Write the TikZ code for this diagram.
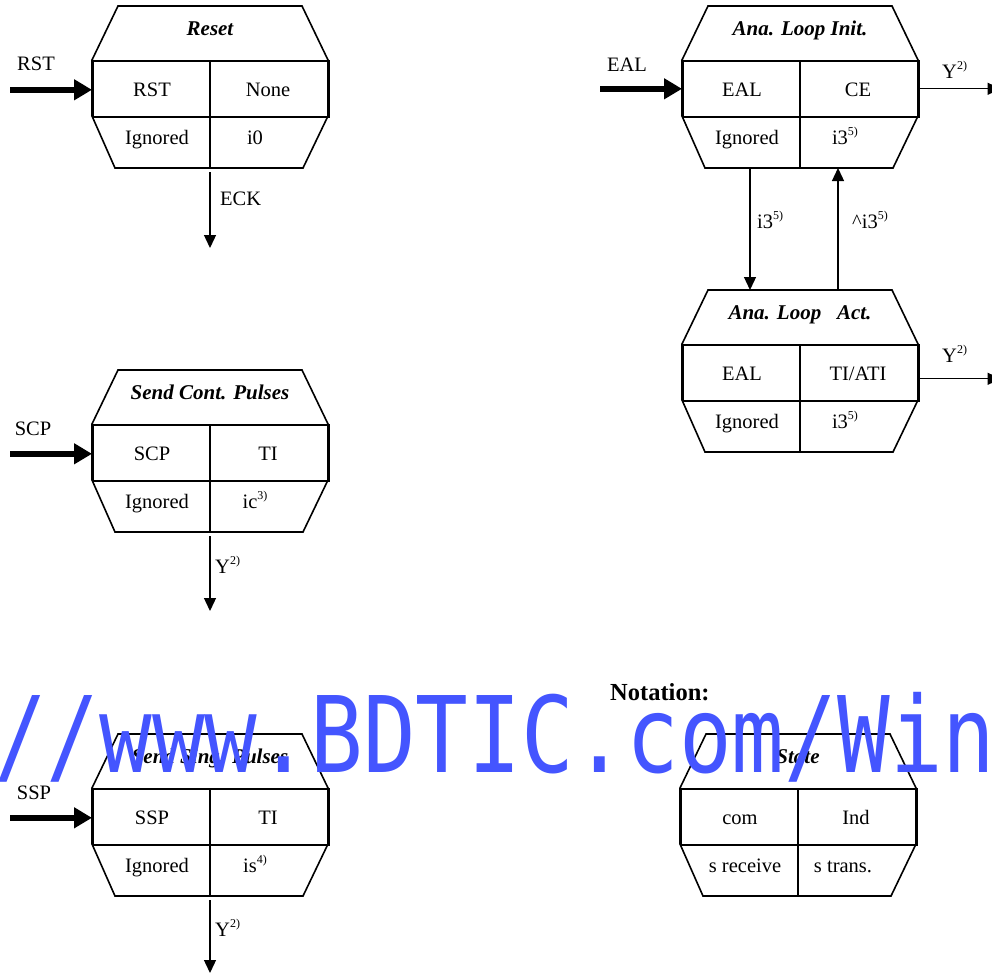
\documentclass[tikz,border=0pt]{standalone}
\usepackage{fontspec}
\setmainfont{Liberation Serif}
\newfontfamily\wmfont{DejaVu Sans Mono}
\usetikzlibrary{arrows.meta}
\definecolor{wmblue}{RGB}{68,85,255}
\newcommand\upnote[1]{\raisebox{0.42em}{\fontsize{12}{12}\selectfont #1}}
\tikzset{
 blk/.style={line width=1.6pt, line join=miter},
 txt/.style={anchor=base, inner sep=0pt, font=\fontsize{20.5}{24}\selectfont},
 ttl/.style={anchor=base, inner sep=0pt, font=\fontsize{21}{24}\selectfont\bfseries\itshape},
 thickarrow/.style={line width=6pt, -{Triangle[length=18pt,width=20pt]}},
 thinarrow/.style={line width=1.3pt, -{Triangle[length=13pt,width=12pt]}},
}
\newcommand\stblock[8]{%
\begin{scope}[shift={(#2,#3)}]
 \draw[blk] (26,0) -- (210,0) -- (236,54) -- (236,110) -- (211,162) -- (23,162) -- (0,110) -- (0,54) -- cycle;
 \node[draw, blk, minimum width=236pt, minimum height=56pt, inner sep=0pt, anchor=north west] (#1-row) at (0,54) {};
 \draw[blk] (118,54) -- (118,162);
 \coordinate (#1-top) at (118,0);
 \coordinate (#1-bot) at (118,162);
 \node[ttl] (#1-title) at (118,29) {#4};
 \node[txt] (#1-a) at (60,90) {#5};
 \node[txt] (#1-b) at (176,90) {#6};
 \node[txt] (#1-c) at (65,138) {#7};
 \node[txt] (#1-d) at (163,138) {#8};
\end{scope}}
\begin{document}
\begin{tikzpicture}[x=1pt,y=-1pt]
\useasboundingbox (0,0) rectangle (992,975);
\fill[white] (0,0) rectangle (992,975);

\stblock{reset}{92}{6}{Reset}{RST}{None}{Ignored}{i0}
\stblock{init}{682}{6}{Ana. Loop Init.}{EAL}{CE}{Ignored}{i3\upnote{5)}}
\stblock{act}{682}{290}{Ana. Loop~~~Act.}{EAL}{TI/ATI}{Ignored}{i3\upnote{5)}}
\stblock{scp}{92}{370}{Send Cont. Pulses}{SCP}{TI}{Ignored}{ic\upnote{3)}}
\stblock{ssp}{92}{734}{Send Sing. Pulses}{SSP}{TI}{Ignored}{is\upnote{4)}}
\stblock{state}{680}{734}{State}{com}{Ind}{s receive}{s trans.}

% inputs
\coordinate (reset-src) at ([xshift=-82pt,yshift=-1pt]reset-row.west);
\draw[thickarrow] (reset-src) -- (reset-src -| reset-row.west);
\node[txt] (rstlab) at (36,70) {RST};
\coordinate (init-src) at ([xshift=-82pt]init-row.west);
\draw[thickarrow] (init-src) -- (init-row.west);
\node[txt] (eallab) at (627,71) {EAL};
\coordinate (scp-src) at ([xshift=-82pt,yshift=-1pt]scp-row.west);
\draw[thickarrow] (scp-src) -- (scp-src -| scp-row.west);
\node[txt] (scplab) at (33,435) {SCP};
\coordinate (ssp-src) at ([xshift=-82pt,yshift=-1pt]ssp-row.west);
\draw[thickarrow] (ssp-src) -- (ssp-src -| ssp-row.west);
\node[txt] (ssplab) at (34,799) {SSP};

% outputs down
\coordinate (reset-end) at (210,248);
\draw[thinarrow] ([yshift=-4pt]reset-bot) -- (reset-end);
\node[txt, anchor=base west] (ecklab) at (220,205) {ECK};
\coordinate (scp-end) at (210,611);
\draw[thinarrow] ([yshift=-4pt]scp-bot) -- (scp-end);
\node[txt, anchor=base west] (scpy) at (215,573) {Y\upnote{2)}};
\coordinate (ssp-end) at (210,973);
\draw[thinarrow] ([yshift=-4pt]ssp-bot) -- (ssp-end);
\node[txt, anchor=base west] (sspy) at (215,936) {Y\upnote{2)}};

% outputs right
\coordinate (init-outend) at ([xshift=81pt]init-row.east);
\draw[thinarrow] (init-row.east) -- (init-outend);
\node[txt, anchor=base west] (inity) at (942,78) {Y\upnote{2)}};
\coordinate (act-outstart) at ([yshift=-6pt]act-row.east);
\coordinate (act-outend) at ([xshift=81pt]act-outstart);
\draw[thinarrow] (act-outstart) -- (act-outend);
\node[txt, anchor=base west] (acty) at (942,362) {Y\upnote{2)}};

% loop
\draw[thinarrow] ([xshift=-50pt]init-bot) -- ([xshift=-50pt]act-top);
\draw[thinarrow] ([xshift=38pt]act-top) -- ([xshift=38pt]init-bot);
\node[txt, anchor=base west] (loopa) at (757,228) {i3\upnote{5)}};
\node[txt, anchor=base west] (loopb) at (852,228) {\textasciicircum i3\upnote{5)}};

\node[anchor=base west, inner sep=0pt, font=\fontsize{24.5}{28}\selectfont\bfseries] (notation) at (610,700) {Notation:};

% watermark
\node[anchor=base west, inner sep=0pt, text=wmblue, xscale=0.829, font=\wmfont\fontsize{105.6}{110}\selectfont] (wm) at (-6,772) {//www.BDTIC.com/Win};
\end{tikzpicture}
\end{document}
